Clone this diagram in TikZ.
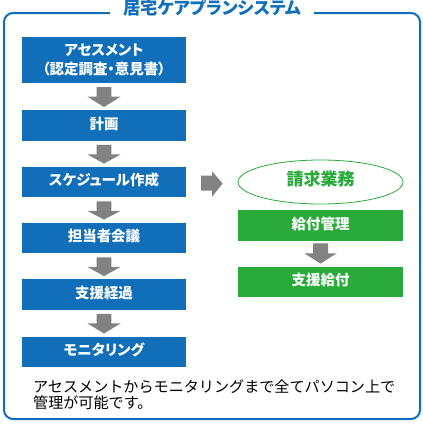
\documentclass[tikz,border=0pt]{standalone}
\usepackage{fontspec}
\setmainfont{Noto Sans CJK JP}
\newfontfamily\jpp[RawFeature=+palt]{Noto Sans CJK JP}
\usetikzlibrary{calc,shapes.geometric}
\definecolor{bxblue}{RGB}{17,110,184}
\definecolor{bxgreen}{RGB}{41,170,58}
\definecolor{arrgray}{RGB}{130,130,130}
\tikzset{
  boxbase/.style={inner sep=0pt, align=center, text=white,
    font=\jpp\fontsize{14.5}{19.5}\selectfont\bfseries},
  bluebox/.style={boxbase, fill=bxblue, minimum width=164pt, minimum height=30.5pt,
    text height=0.88em, text depth=0.12em},
  bluebig/.style={boxbase, fill=bxblue, minimum width=164pt, minimum height=46pt},
  greenbox/.style={boxbase, fill=bxgreen, minimum width=165pt, minimum height=30.5pt,
    text height=0.88em, text depth=0.12em},
  frame/.style={draw=bxblue, line width=2pt, rounded corners=9pt},
  note/.style={inner sep=0pt, anchor=base west, font=\fontsize{15.1}{16}\selectfont, text=black},
}
\newcommand\dnarrow[2]{\fill[arrgray] ($(#1.south)+(-7.3,4)$) -- ++(14.6,0) -- ++(0,9.5) -- ++(9.2,0) -- ($(#2.north)+(0,-3)$) -- ($(#1.south)+(-16.5,13.5)$) -- ++(9.2,0) -- cycle;}
\begin{document}
\begin{tikzpicture}[x=1pt,y=-1pt]
\useasboundingbox (0,0) rectangle (423,424);
\fill[white] (0,0) rectangle (423,424);
% frame
\draw[frame] (314,13) -- (420,13) -- (420,419) -- (4,419) -- (4,13) -- (110,13);
\node[inner sep=0pt, text=bxblue, font=\jpp\fontsize{17.3}{17}\selectfont\bfseries, text height=0.88em, text depth=0.12em] (title) at (212.5,11) {居宅ケアプランシステム};
% left column
\node[bluebig] (b1) at (104,60) {アセスメント\\（認定調査・意見書）};
\node[bluebox] (b2) at (104,125.5) {計画};
\node[bluebox] (b3) at (104,182) {スケジュール作成};
\node[bluebox] (b4) at (104,238) {担当者会議};
\node[bluebox] (b5) at (104,294.5) {支援経過};
\node[bluebox] (b6) at (104,352) {モニタリング};
\dnarrow{b1}{b2}
\dnarrow{b2}{b3}
\dnarrow{b3}{b4}
\dnarrow{b4}{b5}
\dnarrow{b5}{b6}
% right column
\node[draw=bxgreen, line width=0.8pt, ellipse, minimum width=165pt, minimum height=44pt, inner sep=0pt,
  text=bxgreen, font=\jpp\fontsize{17}{17}\selectfont\bfseries, text height=0.88em, text depth=0.12em] (e1) at (320.5,182) {請求業務};
\node[greenbox] (g1) at (320.5,225.5) {給付管理};
\node[greenbox] (g2) at (320.5,282) {支援給付};
\fill[arrgray] ($(g1.south)+(-7.5,2.5)$) -- ++(15,0) -- ++(0,10) -- ++(8.5,0) -- ($(g2.north)+(0,-3)$) -- ($(g1.south)+(-16,12.5)$) -- ++(8.5,0) -- cycle;
% right arrow
\fill[arrgray] ($(b3.east)+(15,-6.5)$) -- ++(11,0) -- ++(0,-4) -- ($(e1.west)+(-15,1.5)$) -- ($(b3.east)+(26,14.5)$) -- ++(0,-6) -- ++(-11,0) -- cycle;
% note
\node[note] (n1) at (33,392) {アセスメントからモニタリングまで全てパソコン上で};
\node[note] (n2) at (33,408) {管理が可能です。};
\end{tikzpicture}
\end{document}
